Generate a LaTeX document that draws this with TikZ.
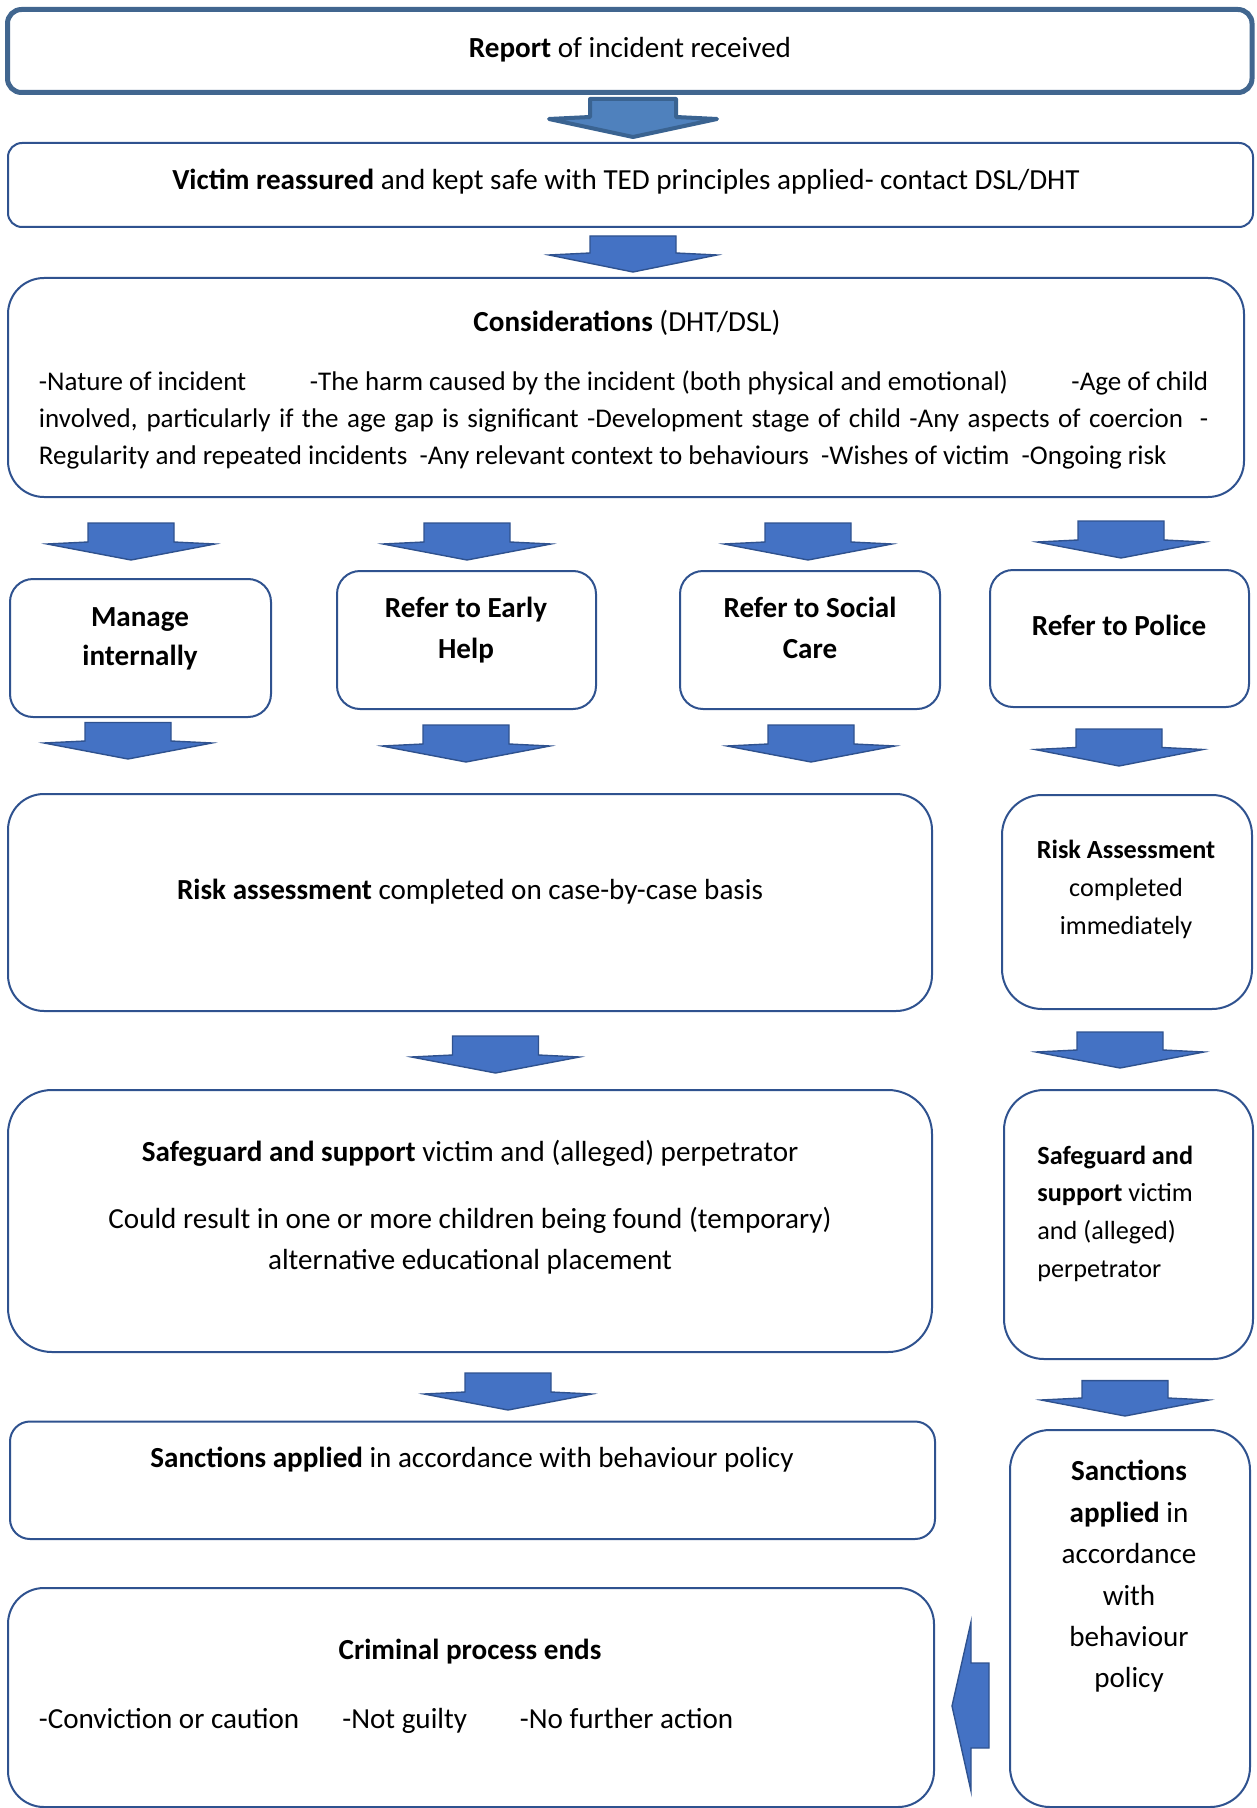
\documentclass[tikz,border=0pt]{standalone}
\usepackage{fontspec}
\setmainfont{Carlito}
\usetikzlibrary{fit}
\definecolor{bord}{HTML}{2F528F}
\definecolor{afill}{HTML}{4472C4}
\definecolor{bordone}{HTML}{41668F}
\definecolor{afillone}{HTML}{4F81BD}
\definecolor{alineone}{HTML}{3A6391}
\newlength\conswd \setlength\conswd{584.75pt}
\newcommand\dnarrow[5][]{%
  \draw[arr,#1] ({#2-43},#3) -- ({#2+43},#3) -- ({#2+43},#4) -- ({#2+84},{#4+2})
    -- (#2,#5) -- ({#2-84},{#4+2}) -- ({#2-43},#4) -- cycle;}
\begin{document}
\begin{tikzpicture}[x=0.5pt,y=-0.5pt,
  box/.style={draw=bord, line width=1pt, fill=white, inner sep=0pt},
  arr/.style={draw=bord, fill=afill, line width=0.7pt, line join=miter},
  firstarr/.style={draw=alineone, fill=afillone, line width=2pt, line join=round},
  txt/.style={inner sep=0pt, text=black, font=\fontsize{14.55}{20.5}\selectfont},
  txtb/.style={inner sep=0pt, text=black, font=\bfseries\fontsize{14.55}{20.5}\selectfont},
  txtsm/.style={inner sep=0pt, text=black, font=\fontsize{13.1}{18.85}\selectfont},
  txtcons/.style={inner sep=0pt, text=black, font=\fontsize{13.5}{18.7}\selectfont}]
\useasboundingbox (0,0) rectangle (1257,1808);

% boxes
\node[box, draw=bordone, line width=2.5pt, rounded corners=7pt, fit={(7.5,9.5) (1252,92.5)}] (report) {};
\node[box, rounded corners=7pt, fit={(8,143) (1253,227)}] (victim) {};
\node[box, rounded corners=18pt, fit={(8,278) (1244,497)}] (cons) {};
\node[box, rounded corners=11.5pt, fit={(10,579) (271,717)}] (manage) {};
\node[box, rounded corners=11.5pt, fit={(337,571) (596,709)}] (early) {};
\node[box, rounded corners=11.5pt, fit={(680,571) (940,709)}] (social) {};
\node[box, rounded corners=11.5pt, fit={(990,570) (1249,707)}] (police) {};
\node[box, rounded corners=18pt, fit={(8,794) (932,1011)}] (riskL) {};
\node[box, rounded corners=20pt, fit={(1002,795) (1252,1009)}] (riskR) {};
\node[box, rounded corners=22pt, fit={(8,1090) (932,1352)}] (sgL) {};
\node[box, rounded corners=20pt, fit={(1004,1090) (1253,1359)}] (sgR) {};
\node[box, rounded corners=10pt, fit={(10,1421.5) (935,1539)}] (sanL) {};
\node[box, rounded corners=20pt, fit={(1010,1430) (1250,1807)}] (sanR) {};
\node[box, rounded corners=18pt, fit={(8,1588) (934,1807)}] (crim) {};

% block arrows
\dnarrow[firstarr]{633}{99}{117}{137}
\dnarrow{633}{236}{253}{272}
\dnarrow{131}{523}{542}{560}
\dnarrow{467}{523}{542}{560}
\dnarrow{808}{523}{542}{560}
\dnarrow{1121}{521}{540}{558}
\dnarrow{128}{722.5}{741}{759}
\dnarrow{466}{725}{744}{762}
\dnarrow{811}{725}{744}{762}
\dnarrow{1119}{729}{747.5}{766}
\dnarrow{495.5}{1036}{1055}{1073}
\dnarrow{1120}{1032}{1050}{1068}
\dnarrow{508}{1373}{1392}{1410}
\dnarrow{1125}{1380.6}{1398}{1416}
\draw[arr] (989,1663) -- (989,1748) -- (971,1748) -- (971,1791) -- (952,1706)
  -- (971,1622) -- (971,1663) -- cycle;

% texts
\node[txt, anchor=mid] (treport) at (630,53) {\textbf{Report} of incident received};
\node[txt, anchor=mid] (tvictim) at (626,185) {\textbf{Victim reassured} and kept safe with TED principles applied- contact DSL/DHT};
\node[txt, anchor=mid] (tconsh) at (627,327) {\textbf{Considerations} (DHT/DSL)};
\node[txtcons, anchor=west, align=left] (tconsb) at (38.5,420) {%
  \hbox to\conswd{\strut-Nature of incident\hfill-The harm caused by the incident (both physical and emotional)\hfill-Age of child}\\
  \hbox to\conswd{involved, particularly if the age gap is significant -Development stage of child -Any aspects of coercion\ \ -}\\
  Regularity and repeated incidents\ \ -Any relevant context to behaviours\ \ -Wishes of victim\ \ -Ongoing risk\strut};
\node[txtb, align=center, font=\bfseries\fontsize{14.55}{19.8}\selectfont] (tmanage) at (140,638) {\strut Manage\\internally\strut};
\node[txtb, align=center] (tearly) at (466,630) {\strut Refer to Early\\Help\strut};
\node[txtb, align=center] (tsocial) at (810,630) {\strut Refer to Social\\Care\strut};
\node[txtb, anchor=mid] (tpolice) at (1119,631) {Refer to Police};
\node[txt, anchor=mid] (triskL) at (470,894.5) {\textbf{Risk assessment} completed on case-by-case basis};
\node[txtsm, align=center] (triskR) at (1126,889) {\strut\textbf{Risk Assessment}\\completed\\immediately\strut};
\node[txt, anchor=mid] (tsgL1) at (470,1156.5) {\textbf{Safeguard and support} victim and (alleged) perpetrator};
\node[txt, align=center] (tsgL2) at (470,1240.5) {\strut Could result in one or more children being found (temporary)\\alternative educational placement\strut};
\node[txtsm, align=left, anchor=west] (tsgR) at (1037,1213) {\strut\textbf{Safeguard and}\\\textbf{support} victim\\and (alleged)\\perpetrator\strut};
\node[txt, anchor=mid] (tsanL) at (472,1463) {\textbf{Sanctions applied} in accordance with behaviour policy};
\node[txt, align=center, font=\fontsize{14.55}{20.7}\selectfont] (tsanR) at (1129,1576) {\strut\textbf{Sanctions}\\\textbf{applied} in\\accordance\\with\\behaviour\\policy\strut};
\node[txtb, anchor=mid] (tcrim) at (470,1655) {Criminal process ends};
\node[txt, anchor=mid west] (tcrim1) at (38.5,1723.5) {-Conviction or caution};
\node[txt, anchor=mid west] (tcrim2) at (342,1723.5) {-Not guilty};
\node[txt, anchor=mid west] (tcrim3) at (519.5,1723.5) {-No further action};
\end{tikzpicture}
\end{document}
